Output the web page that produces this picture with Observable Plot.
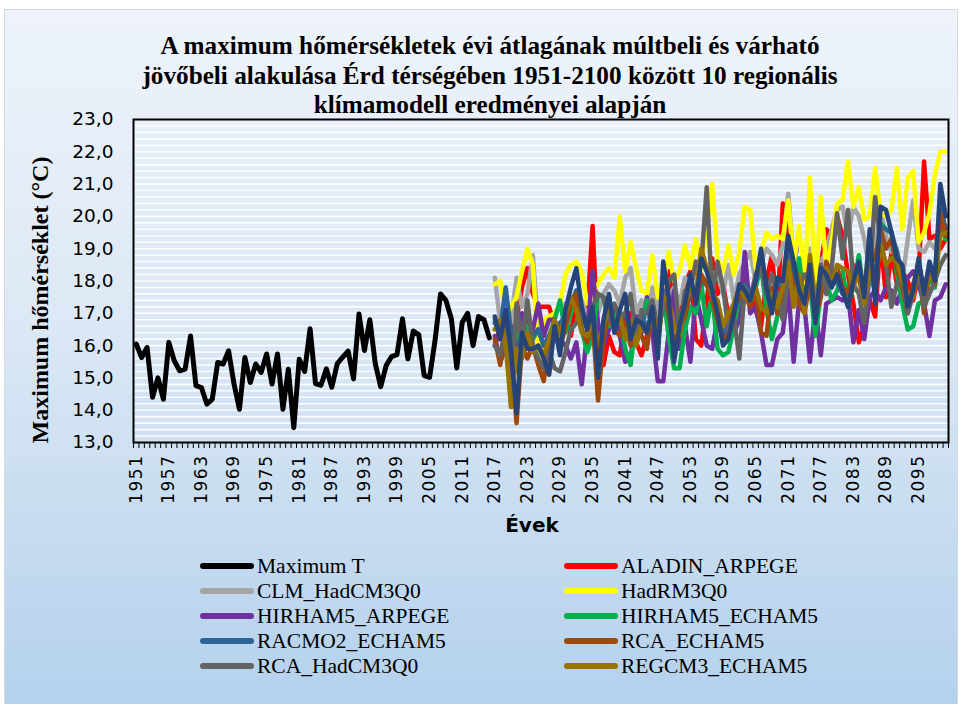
<!DOCTYPE html>
<html><head><meta charset="utf-8">
<script src="https://cdn.jsdelivr.net/npm/d3@7"></script>
<script src="https://cdn.jsdelivr.net/npm/@observablehq/plot@0.6"></script>
<style>
body{margin:0;background:#fff;}
#wrap{position:relative;width:963px;height:704px;overflow:hidden;background:#fff;}
#bg{position:absolute;left:4px;top:9px;width:952px;height:694px;border:1px solid #d3dae3;background:linear-gradient(180deg,#eef3fa 0%,#dce8f5 45%,#b4d1ec 100%);}
#chart{position:absolute;left:0;top:0;}
.title{position:absolute;left:90px;width:800px;top:31px;text-align:center;font:bold 26px "Liberation Serif",serif;line-height:29.5px;color:#000;transform:scaleX(0.97);}
.ytitle{position:absolute;left:40px;top:300px;transform:translate(-50%,-50%) rotate(-90deg);white-space:nowrap;font:bold 24px "Liberation Serif",serif;}
.xtitle{position:absolute;left:532px;top:525px;transform:translate(-50%,-50%);font:bold 20px "DejaVu Sans",sans-serif;}
.leg{position:absolute;font:21.5px "Liberation Serif",serif;white-space:nowrap;transform:translateY(-50%);}
.sw{position:absolute;height:6px;border-radius:3px;transform:translateY(-50%);}
</style></head>
<body>
<div id="wrap">
  <div id="bg"></div>
  <div id="chart"></div>
  <div class="title">A maximum hőmérsékletek évi átlagának múltbeli és várható<br>jövőbeli alakulása Érd térségében 1951-2100 között 10 regionális<br>klímamodell eredményei alapján</div>
  <div class="ytitle">Maximum hőmérséklet (°C)</div>
  <div class="xtitle">Évek</div>
  <div id="legend"></div>
</div>
<script>
// Observed series 1951-2016
const obsYears = d3.range(1951, 2017);
const maximumT = [16.05,15.63,15.94,14.4,15.0,14.34,16.1,15.53,15.22,15.27,
  16.3,14.76,14.7,14.19,14.34,15.48,15.43,15.84,14.81,14.03,
  15.63,14.86,15.43,15.17,15.74,14.81,15.74,14.03,15.27,13.46,
  15.58,15.2,16.52,14.82,14.77,15.28,14.71,15.44,15.64,15.83,
  14.97,16.98,15.85,16.8,15.44,14.73,15.38,15.66,15.72,16.83,
  15.59,16.45,16.34,15.07,15.02,16.16,17.6,17.4,16.83,15.31,
  16.72,17.0,16.0,16.9,16.8,16.24];

// Model projections 2017-2100
const modelYears = d3.range(2017, 2101);
const aladinArpege = [16.0,16.6,16.2,15.9,16.8,17.8,18.4,17.6,17.2,17.2,
  17.2,16.6,16.4,16.9,16.3,17.4,16.8,17.0,19.7,16.1,
  15.4,16.3,15.8,15.7,16.9,17.0,16.1,15.7,16.3,17.0,
  16.4,17.3,18.3,17.2,16.7,17.9,18.3,16.2,16.0,17.4,
  18.7,17.6,17.9,16.9,17.2,17.0,18.1,17.6,17.1,16.6,
  18.0,18.8,17.0,20.4,19.4,17.8,18.1,17.6,18.6,17.2,
  18.5,19.6,19.4,20.0,19.4,18.2,17.3,16.1,16.6,17.4,
  16.9,19.3,17.5,18.9,17.9,18.3,18.0,17.4,18.2,21.7,
  19.3,19.4,19.0,19.3];
const clmHadcm3q0 = [18.1,16.7,15.9,16.8,18.1,17.2,17.6,18.8,16.5,16.4,
  16.2,16.7,16.3,17.3,17.0,17.6,17.4,16.9,17.3,17.0,
  17.6,17.9,17.7,17.3,18.1,18.4,17.0,17.4,16.9,17.8,
  17.0,17.9,17.5,17.8,17.3,18.1,17.9,18.4,17.8,18.0,
  18.2,18.3,17.6,18.5,17.4,18.2,18.6,18.9,18.0,18.6,
  19.0,18.8,18.5,19.1,20.7,18.6,19.2,18.6,19.0,18.1,
  18.6,18.9,19.6,20.2,20.3,19.4,20.3,20.0,19.3,18.3,
  19.1,20.2,19.4,18.9,19.0,18.0,19.3,20.5,19.0,18.9,
  19.2,19.0,19.9,19.7];
const hadrm3q0 = [17.9,18.0,16.9,17.2,17.5,18.3,19.0,18.5,15.6,16.8,
  16.9,17.0,17.3,18.2,18.5,18.6,18.3,17.3,17.6,17.9,
  18.2,18.4,18.1,20.0,18.3,19.2,18.4,17.7,17.6,18.8,
  17.5,17.9,18.9,18.0,18.3,19.1,18.4,19.3,18.4,19.6,
  21.0,18.7,18.3,19.1,18.2,18.9,20.3,20.2,18.4,18.9,
  19.5,19.3,19.4,19.3,20.5,18.6,19.7,17.9,21.2,17.7,
  20.6,18.4,19.2,20.4,20.5,21.7,20.3,20.9,19.9,20.0,
  21.5,20.1,20.0,20.2,21.5,19.6,21.2,21.4,19.2,19.5,
  20.1,21.3,22.0,22.0];
const hirham5Arpege = [16.3,15.5,15.9,16.6,16.0,17.0,16.8,16.5,17.3,16.3,
  16.8,16.8,16.2,16.0,15.6,16.1,14.8,16.4,18.3,16.7,
  16.0,16.5,17.2,16.3,15.5,15.6,16.9,16.4,17.5,16.4,
  14.9,14.9,16.4,17.7,15.9,16.6,15.5,17.6,16.8,16.0,
  15.9,16.8,16.2,16.7,16.4,16.8,18.9,17.0,17.2,16.4,
  15.4,15.4,16.2,16.4,17.8,15.5,17.4,17.2,15.5,17.2,
  15.7,17.3,17.4,17.5,17.4,17.6,16.1,17.1,16.2,17.5,
  17.7,17.4,17.8,17.7,17.3,17.8,18.1,18.3,17.9,17.3,
  16.3,17.4,17.5,17.9];
const hirham5Echam5 = [16.8,16.3,16.0,15.6,16.4,16.0,16.6,16.2,16.5,16.0,
  16.3,16.8,17.4,16.4,17.0,17.7,16.5,15.8,16.3,17.6,
  17.5,16.6,16.9,17.1,15.9,15.4,16.8,16.6,17.4,16.9,
  16.2,17.6,16.3,15.3,15.3,16.5,17.2,17.0,17.9,16.6,
  17.6,15.9,15.7,15.8,16.6,17.5,17.8,17.3,17.8,18.5,
  17.1,16.2,16.9,17.5,18.4,17.6,18.7,17.2,17.9,16.3,
  17.6,18.0,17.4,17.7,18.3,17.3,17.8,18.8,17.5,18.2,
  17.7,19.8,19.6,19.5,18.2,17.3,16.5,16.6,17.3,17.4,
  18.1,17.8,19.7,19.3];
const racmo2Echam5 = [16.7,16.5,17.8,16.4,15.2,16.6,16.0,16.3,16.5,16.0,
  16.3,16.2,16.7,16.9,17.3,17.7,17.0,16.8,16.9,16.0,
  16.5,17.2,16.6,16.8,17.0,16.4,16.6,17.0,16.5,17.0,
  16.1,17.7,17.2,15.9,16.4,17.0,17.6,17.5,18.0,17.9,
  17.5,17.0,16.4,16.5,17.0,17.5,17.9,17.6,18.0,18.6,
  17.6,17.2,18.0,17.8,18.9,18.3,17.6,17.5,18.3,17.0,
  18.0,18.3,17.9,18.0,17.6,17.7,18.2,18.3,17.8,19.0,
  17.9,19.7,19.6,19.5,18.9,18.2,17.5,17.6,18.4,17.8,
  18.4,18.3,20.3,19.6];
const rcaEcham5 = [16.2,15.4,16.5,15.8,13.6,16.0,15.6,16.0,15.4,14.9,
  16.0,16.4,15.9,16.6,17.3,17.6,16.5,16.1,16.8,14.3,
  16.2,17.0,16.5,16.3,16.7,16.0,16.5,16.3,15.9,17.3,
  16.0,17.5,17.0,16.1,16.5,16.9,17.8,17.3,18.2,17.9,
  17.4,16.8,16.2,16.3,17.2,17.5,17.6,17.2,17.8,16.4,
  16.3,17.8,17.0,17.3,18.5,17.8,17.3,17.0,18.0,16.9,
  17.5,18.6,18.2,18.4,17.8,17.6,18.5,18.1,17.3,18.5,
  18.7,19.6,19.0,19.3,18.4,17.8,17.0,17.9,18.5,17.0,
  18.3,17.9,20.1,19.4];
const rcaHadcm3q0 = [16.0,15.7,16.6,14.1,17.3,16.0,17.4,16.0,15.6,15.3,
  15.8,15.3,15.2,15.8,16.5,16.7,17.0,16.5,17.2,17.6,
  17.5,16.8,17.3,16.9,17.0,17.6,16.2,17.1,17.0,17.4,
  16.5,17.2,18.0,18.2,16.4,17.7,17.7,18.6,18.5,20.9,
  17.5,18.6,17.8,16.5,16.9,15.6,17.8,17.4,18.2,18.4,
  17.6,18.2,17.6,16.8,18.3,17.4,17.8,18.2,18.0,17.0,
  18.5,17.6,18.4,20.1,18.7,20.2,17.9,17.6,16.7,18.2,
  20.6,19.2,18.5,17.2,17.9,18.2,17.0,17.6,18.4,17.2,
  17.6,18.0,18.5,18.8];
const regcm3Echam5 = [16.5,16.8,16.0,14.1,15.9,15.6,16.4,15.8,16.0,15.7,
  16.2,16.8,16.3,17.0,17.5,17.1,16.4,16.3,16.8,16.0,
  16.6,17.3,16.6,16.9,16.2,16.8,16.0,16.6,16.4,17.0,
  16.4,17.5,17.4,16.6,16.3,17.3,17.8,17.6,19.0,18.4,
  17.6,17.4,16.6,17.0,17.3,17.8,17.5,17.4,17.8,17.2,
  17.0,17.6,17.2,17.8,18.6,17.2,18.2,17.0,18.8,17.4,
  18.2,18.4,17.8,18.5,18.4,18.3,17.8,18.4,17.3,18.4,
  18.0,19.1,18.5,18.7,18.6,18.0,17.6,17.5,18.6,17.6,
  18.2,18.0,19.4,19.5];
// tenth model (its legend entry is cut off in the original)
const model10 = [16.9,16.2,17.1,15.8,13.9,16.4,15.9,15.9,16.0,15.6,
  15.1,16.6,15.7,17.1,17.8,18.4,17.2,16.5,17.2,15.0,
  16.8,17.6,16.4,17.1,17.6,16.2,16.8,16.7,16.4,17.2,
  15.6,18.6,17.5,15.5,16.6,17.3,18.2,17.3,18.7,18.3,
  17.7,17.0,16.0,16.2,17.0,17.9,17.7,17.4,18.0,19.0,
  17.8,17.0,18.1,18.0,19.4,18.6,17.7,17.3,18.5,16.7,
  18.4,18.2,17.8,18.2,17.7,17.2,18.0,18.6,17.5,19.6,
  17.3,20.3,20.2,19.5,18.7,18.5,17.2,17.7,18.7,17.6,
  18.6,18.0,21.0,20.0];

const seriesNames = ["Maximum T","ALADIN_ARPEGE","CLM_HadCM3Q0","HadRM3Q0","HIRHAM5_ARPEGE","HIRHAM5_ECHAM5","RACMO2_ECHAM5","RCA_ECHAM5","RCA_HadCM3Q0","REGCM3_ECHAM5","Model 10"];
const seriesColors = ["#000000","#FF0000","#A5A5A5","#FFFF00","#7030A0","#00B050","#2E6496","#9E480E","#636363","#997300","#264478"];
const seriesValues = [maximumT,aladinArpege,clmHadcm3q0,hadrm3q0,hirham5Arpege,hirham5Echam5,racmo2Echam5,rcaEcham5,rcaHadcm3q0,regcm3Echam5,model10];

const xTickLabels = [1951,1957,1963,1969,1975,1981,1987,1993,1999,2005,2011,2017,2023,2029,2035,2041,2047,2053,2059,2065,2071,2077,2083,2089,2095];
const yTicks = [13,14,15,16,17,18,19,20,21,22,23];
const allYears = d3.range(1951, 2101);
const boundaries = allYears.map(y => y - 0.5).concat([2100.5]);
const grid = d3.range(13.2, 23, 0.2);

const lineMarks = seriesValues.map((vals, i) => {
  const yrs = i === 0 ? obsYears : modelYears;
  const data = vals.map((v, j) => ({year: yrs[j], value: v}));
  return Plot.line(data, {x: "year", y: "value", stroke: seriesColors[i],
    strokeWidth: i === 0 ? 5 : 4.5, strokeLinejoin: "round", strokeLinecap: "round"});
});

const chart = Plot.plot({
  width: 963, height: 545,
  marginLeft: 133, marginRight: 15, marginTop: 119, marginBottom: 103,
  style: {background: "transparent", fontFamily: "DejaVu Sans", color: "#000", overflow: "visible"},
  x: {type: "linear", domain: [1950.5, 2100.5]},
  y: {domain: [13, 23]},
  marks: [
    Plot.ruleY(grid, {stroke: "#ffffff", strokeWidth: 1.6, strokeOpacity: 0.9}),
    Plot.axisX({ticks: boundaries, tickSize: 6, tickFormat: () => "", stroke: "#000", strokeWidth: 1, label: null}),
    Plot.axisX({ticks: xTickLabels, tickSize: 0, tickRotate: -90, tickPadding: 12, fontSize: 17, tickFormat: d => String(d), label: null}),
    Plot.axisY({ticks: yTicks, tickSize: 0, tickPadding: 20, fontSize: 18.5, tickFormat: d => d.toFixed(1).replace(".", ","), label: null}),
    ...lineMarks,
    Plot.frame({stroke: "#000", strokeWidth: 2})
  ]
});
document.getElementById("chart").appendChild(chart);
d3.select(chart).selectAll('g[aria-label="x-axis tick label"] text').style("letter-spacing", "1.5px");

// Legend (10 visible entries, as in the original)
const legendCols = [{sw: 200, tx: 257}, {sw: 564, tx: 621}];
const legendRows = [566, 591, 616, 641, 666];
const leg = document.getElementById("legend");
for (let i = 0; i < 10; i++) {
  const col = legendCols[i % 2], row = legendRows[Math.floor(i / 2)];
  const sw = document.createElement("div");
  sw.className = "sw";
  sw.style.left = col.sw + "px"; sw.style.top = row + "px"; sw.style.width = "54px";
  sw.style.background = seriesColors[i];
  leg.appendChild(sw);
  const t = document.createElement("div");
  t.className = "leg";
  t.style.left = col.tx + "px"; t.style.top = row + "px";
  t.textContent = seriesNames[i];
  leg.appendChild(t);
}
</script>
</body></html>
